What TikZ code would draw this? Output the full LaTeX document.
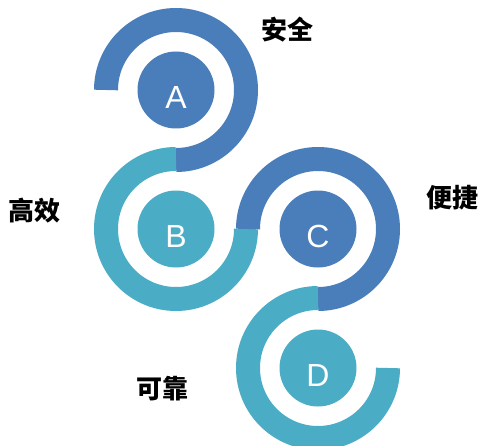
\documentclass[tikz,border=0pt]{standalone}
\usepackage{fontspec}
\newfontfamily\cjk{Noto Sans CJK SC}
\newfontfamily\letterfont{Liberation Sans}
\usepackage{tikz}
\usetikzlibrary{positioning}
\definecolor{darkblue}{HTML}{4A7EBB}
\definecolor{lightblue}{HTML}{4BACC6}

\begin{document}
\begin{tikzpicture}[x=1pt, y=1pt,
    ball/.style={circle, minimum size=77pt, inner sep=0pt},
    ring/.style={line width=24pt},
    letter/.style={white, font=\letterfont\fontsize{32}{32}\selectfont},
    word/.style={black, font=\cjk\bfseries\fontsize{26}{26}\selectfont},
    ]
\useasboundingbox (0,0) rectangle (481,445);

\foreach \n/\x/\y/\c in {a/176/355/darkblue, b/176/216/lightblue,
    c/318/216/darkblue, d/318/77/lightblue}
    \node[ball, fill=\c] (\n) at (\x,\y) {};

\foreach \n/\s/\e/\c in {a/180/-90/darkblue, b/90/360/lightblue,
    c/180/-90/darkblue, d/90/360/lightblue}
    \draw[ring, \c] ([shift={(\s:70pt)}]\n.center) arc[start angle=\s, end angle=\e, radius=70pt];

\foreach \n/\t in {a/A, b/B, c/C, d/D}
    \node[letter] (\n-txt) at ([yshift=-7pt]\n.center) {\t};

\node[word] (safe) at (287.5,415) {安全};
\node[word] (fast) at (35,234.5) {高效};
\node[word] (easy) at (452.5,247) {便捷};
\node[word] (sure) at (162.5,56) {可靠};

\end{tikzpicture}
\end{document}
